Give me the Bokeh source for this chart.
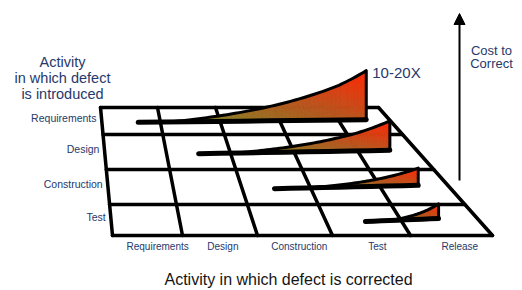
import numpy as np
from bokeh.plotting import figure
from bokeh.models import Range1d, Arrow, NormalHead
from bokeh.core.properties import value
from bokeh.embed import file_html
from bokeh.resources import INLINE

# ---------------- data ----------------
introduced = ["Requirements", "Design", "Construction", "Test"]
corrected = ["Requirements", "Design", "Construction", "Test", "Release"]
relative_cost = [20, 12, 7, 6]          # relative cost to correct (peak, at release)
line_start = [0.62, 1.50, 2.47, 3.52]   # column position where the defect appears
rise_start = [1.17, 2.08, 3.00, 3.85]   # column position where cost starts to grow
peak_at = [4.55, 4.55, 4.57, 4.50]      # column position of the peak (release)
peak_label = "10-20X"
y_title = ["Activity", "in which defect", "is introduced"]
z_title = ["Cost to", "Correct"]
x_title = "Activity in which defect is corrected"

# ---------------- layout (perspective grid) ----------------
W, H = 522, 290
top_x = [100, 157, 215, 273, 330, 378]
bot_x = [112, 182, 257, 332, 410, 492]
row_y = [107, 134, 169, 204, 235]
NAVY = "#26396a"
FONT = value("Liberation Sans")


def y_of(v):
    return float(np.interp(v, range(len(row_y)), row_y))


def x_of(u, y):
    t = (y - row_y[0]) / (row_y[-1] - row_y[0])
    xs = [tx + (bx - tx) * t for tx, bx in zip(top_x, bot_x)]
    return float(np.interp(u, range(len(xs)), xs))


p = figure(width=W, height=H, output_backend="svg", toolbar_location=None,
           x_range=Range1d(0, W), y_range=Range1d(H, 0),
           min_border=0, background_fill_color="white", border_fill_color="white")
p.axis.visible = False
p.grid.visible = False
p.outline_line_color = None

# grid
gx, gy = [], []
for y in row_y:
    gx.append([x_of(0, y), x_of(5, y)])
    gy.append([y, y])
for c in range(len(top_x)):
    gx.append([top_x[c], bot_x[c]])
    gy.append([row_y[0], row_y[-1]])
p.multi_line(gx, gy, line_color="black", line_width=3.5, line_cap="round", line_join="round")

# gradient helper
stops = [(0.0, (118, 140, 38)), (0.5, (182, 86, 30)), (1.0, (255, 40, 6))]


def grad(t):
    t = min(max(t, 0.0), 1.0)
    for (t0, c0), (t1, c1) in zip(stops[:-1], stops[1:]):
        if t <= t1:
            f = (t - t0) / (t1 - t0)
            return "#%02x%02x%02x" % tuple(int(round(a + (b - a) * f)) for a, b in zip(c0, c1))
    return "#%02x%02x%02x" % stops[-1][1]


px_per_cost = 2.45
k = 1.7
N, M = 50, 6
pxs, pys, pcol = [], [], []
outlines_x, outlines_y, base_x, base_y = [], [], [], []
peak_pts = []
for i in range(len(introduced)):
    v0, v1 = i + 0.55, i + 0.45

    def base(u, i=i, v0=v0, v1=v1):
        f = (u - line_start[i]) / (peak_at[i] - line_start[i])
        y = y_of(v0 + (v1 - v0) * f)
        return x_of(u, y), y

    Hpx = relative_cost[i] * px_per_cost
    s = np.linspace(0, 1, N + 1)
    us = rise_start[i] + s * (peak_at[i] - rise_start[i])
    pts = [base(u) for u in us]
    bx = [q[0] for q in pts]
    by = np.array([q[1] for q in pts])
    h = Hpx * (np.exp(k * s) - 1) / (np.exp(k) - 1)
    for a in range(N):
        for b in range(M):
            f0, f1 = b / M, (b + 1) / M
            pxs.append([bx[a], bx[a + 1], bx[a + 1], bx[a]])
            pys.append([by[a] - h[a] * f0, by[a + 1] - h[a + 1] * f0,
                        by[a + 1] - h[a + 1] * f1, by[a] - h[a] * f1])
            sc = (s[a] + s[a + 1]) / 2
            hc = (h[a] + h[a + 1]) / 2 * (f0 + f1) / 2 / Hpx
            pcol.append(grad(0.55 * sc + 0.45 * hc))
    outlines_x.append(list(bx) + [bx[-1]])
    outlines_y.append(list(by - h) + [by[-1]])
    bu = np.linspace(line_start[i], peak_at[i], 10)
    bp = [base(u) for u in bu]
    base_x.append([q[0] for q in bp])
    base_y.append([q[1] for q in bp])
    peak_pts.append((bx[-1], by[-1] - h[-1]))

p.patches(pxs, pys, fill_color=pcol, line_color=pcol, line_width=0.8)
p.multi_line(outlines_x, outlines_y, line_color="black", line_width=3, line_join="round", line_cap="round")
p.multi_line(base_x, base_y, line_color="black", line_width=5, line_cap="round", line_join="round")

# row labels (introduced)
ry = [y_of(r + 0.5) - 3 for r in range(len(introduced))]
rx = [x_of(0, y) - 5 for y in ry]
p.text(x=rx, y=ry, text=introduced, text_align="right", text_baseline="middle",
       text_font=FONT, text_font_size="10.5px", text_color=NAVY)

# column labels (corrected)
ly = 246
nudge = [0.12, 0, 0, 0, 0]
lx = [x_of(c + 0.5 + nudge[c], ly) for c in range(len(corrected))]
p.text(x=lx, y=[ly] * len(corrected), text=corrected, text_align="center", text_baseline="middle",
       text_font=FONT, text_font_size="10px", text_color=NAVY)

# peak label
p.text(x=[peak_pts[0][0] + 6], y=[peak_pts[0][1] + 2], text=[peak_label], text_align="left",
       text_baseline="middle", text_font=FONT, text_font_size="15px", text_color=NAVY)

# y title
p.text(x=[62] * 3, y=[61, 77, 93], text=y_title, text_align="center", text_baseline="middle",
       text_font=FONT, text_font_size="14.5px", text_color=NAVY)

# z title & arrow
p.text(x=[491] * 2, y=[50, 63], text=z_title, text_align="center", text_baseline="middle",
       text_font=FONT, text_font_size="13px", text_color=NAVY)
p.add_layout(Arrow(end=NormalHead(size=11, fill_color="black", line_color="black"),
                   x_start=459, y_start=180, x_end=459, y_end=13,
                   line_color="black", line_width=2))

# x title
p.text(x=[288], y=[279], text=[x_title], text_align="center", text_baseline="middle",
       text_font=FONT, text_font_size="16px", text_color="#151515")

open("out.html", "w").write(file_html(p, INLINE))
